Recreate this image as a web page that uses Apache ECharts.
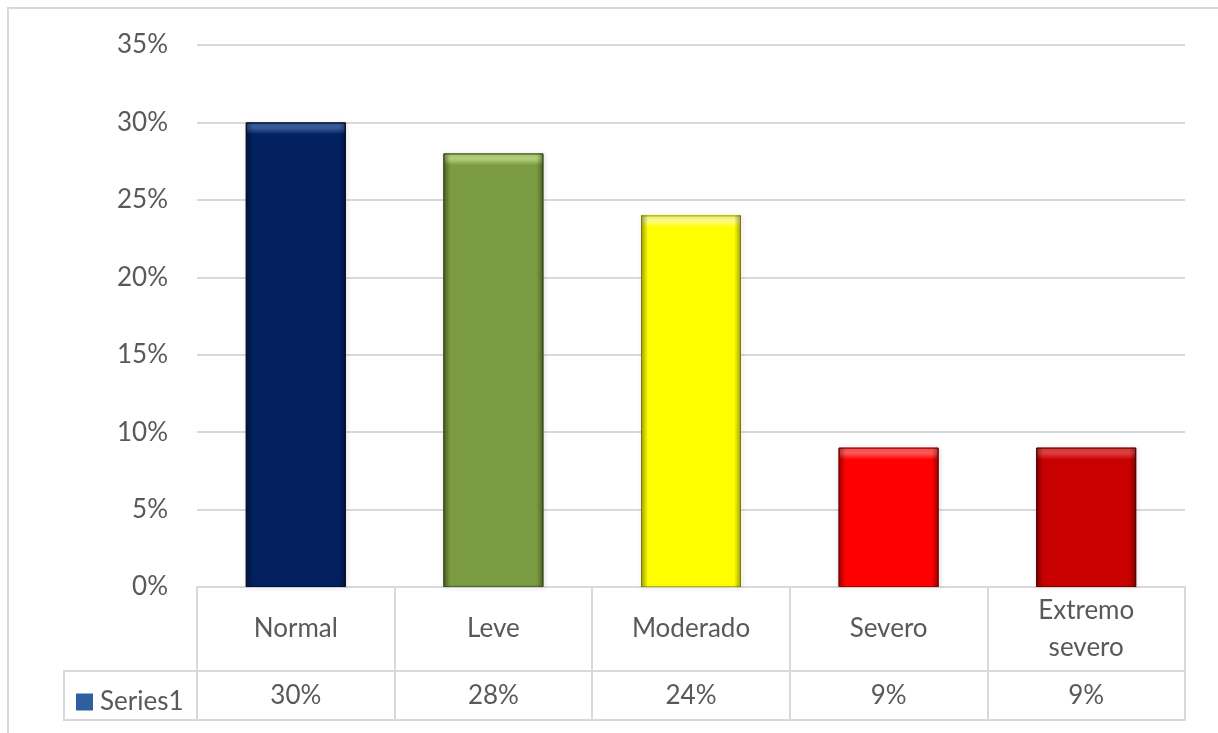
<!DOCTYPE html>
<html>
<head>
<meta charset="utf-8">
<script src="https://cdn.jsdelivr.net/npm/echarts@6/dist/echarts.min.js"></script>
<style>
html,body{margin:0;padding:0;overflow:hidden;background:#fff;width:1218px;height:733px;}
#frame{position:absolute;left:7px;top:7px;width:1400px;height:900px;border:2px solid #d9d9d9;box-sizing:border-box;}
#chart{position:absolute;left:0;top:0;width:1218px;height:733px;}
</style>
</head>
<body>
<div id="frame"></div>
<div id="chart"></div>
<script>
const categories = ['Normal', 'Leve', 'Moderado', 'Severo', 'Extremo\nsevero'];
const values = [0.30, 0.28, 0.24, 0.09, 0.09];
const valueLabels = ['30%', '28%', '24%', '9%', '9%'];
const barColors = ['#03215F', '#7B9B42', '#FFFF00', '#FF0000', '#C80000'];
const topColors = ['#3A5C9E', '#B4D27A', '#FFFF8A', '#FF5A5A', '#E24040'];
const edgeColors = ['#00143A', '#50692A', '#B8B800', '#B00000', '#800000'];
const seriesName = 'Series1';

const FONT = 'Lato';
const TXT = '#595959';
const LINE = '#d9d9d9';
const FS = 26;

const chart = echarts.init(document.getElementById('chart'), null, { renderer: 'canvas' });
const option = {
  animation: false,
  backgroundColor: 'transparent',
  grid: { left: 197, right: 33, top: 45, bottom: 146 },
  legend: {
    show: true,
    left: 71, top: 684,
    icon: 'rect', itemWidth: 17, itemHeight: 17, itemGap: 4,
    data: [{ name: seriesName, itemStyle: { color: '#2F5FA0' } }],
    textStyle: { color: TXT, fontFamily: FONT, fontSize: FS, padding: [0, 0, 0, 2] },
    selectedMode: false
  },
  xAxis: [
    {
      type: 'category', data: categories, position: 'bottom',
      axisLine: { show: true, lineStyle: { color: LINE, width: 2 } },
      axisTick: { show: true, length: 84, lineStyle: { color: LINE, width: 2 } },
      axisLabel: { color: TXT, fontFamily: FONT, fontSize: FS, lineHeight: 37, margin: 42, verticalAlign: 'middle' },
      splitLine: { show: false }
    },
    {
      type: 'category', data: valueLabels, position: 'bottom', offset: 84,
      axisLine: { show: true, lineStyle: { color: LINE, width: 2 } },
      axisTick: { show: true, length: 49, lineStyle: { color: LINE, width: 2 } },
      axisLabel: { color: TXT, fontFamily: FONT, fontSize: FS, margin: 25, verticalAlign: 'middle' },
      splitLine: { show: false }
    },
    {
      type: 'category', data: valueLabels, position: 'bottom', offset: 133,
      axisLine: { show: true, lineStyle: { color: LINE, width: 2 } },
      axisTick: { show: false }, axisLabel: { show: false }, splitLine: { show: false }
    }
  ],
  yAxis: {
    type: 'value', min: 0, max: 0.35, interval: 0.05,
    axisLine: { show: false }, axisTick: { show: false },
    axisLabel: {
      color: TXT, fontFamily: FONT, fontSize: FS, margin: 29,
      formatter: v => Math.round(v * 100) + '%'
    },
    splitLine: { show: true, lineStyle: { color: LINE, width: 2 } }
  },
  series: [{
    name: seriesName, type: 'bar', xAxisIndex: 0,
    barWidth: 100,
    data: values.map((v, i) => ({
      value: v,
      itemStyle: {
        color: barColors[i],
        borderColor: edgeColors[i], borderWidth: 1,
        shadowColor: 'rgba(0,0,0,0.25)', shadowBlur: 4, shadowOffsetX: 1, shadowOffsetY: 1
      }
    }))
  }, {
    name: 'bevel', type: 'bar', xAxisIndex: 0,
    barWidth: 100, barGap: '-100%', silent: true,
    data: values.map((v, i) => ({
      value: v,
      itemStyle: {
        color: {
          type: 'linear', x: 0, y: 0, x2: 1, y2: 0,
          colorStops: [
            { offset: 0, color: 'rgba(0,0,0,0.35)' },
            { offset: 0.07, color: 'rgba(0,0,0,0)' },
            { offset: 0.93, color: 'rgba(0,0,0,0)' },
            { offset: 1, color: 'rgba(0,0,0,0.35)' }
          ]
        }
      }
    }))
  }]
};
chart.setOption(option);

// top bevel highlight and legend cell, located from the axis scales
const c0 = chart.convertToPixel({ xAxisIndex: 0 }, 0);
const c1 = chart.convertToPixel({ xAxisIndex: 0 }, 1);
const leftEdge = c0 - (c1 - c0) / 2;
const y0 = chart.convertToPixel({ yAxisIndex: 0 }, 0);
chart.setOption({
  series: [{
    data: values.map((v, i) => {
      const top = chart.convertToPixel({ yAxisIndex: 0 }, v);
      return {
        value: v,
        itemStyle: {
          color: {
            type: 'linear', global: true, x: 0, y: top, x2: 0, y2: top + 12,
            colorStops: [
              { offset: 0, color: topColors[i] },
              { offset: 0.45, color: topColors[i] },
              { offset: 1, color: barColors[i] }
            ]
          },
          borderColor: edgeColors[i], borderWidth: 1,
          shadowColor: 'rgba(0,0,0,0.25)', shadowBlur: 4, shadowOffsetX: 1, shadowOffsetY: 1
        }
      };
    })
  }],
  graphic: [{
    type: 'rect', silent: true,
    shape: { x: 64, y: y0 + 84, width: leftEdge - 64, height: 49 },
    style: { fill: 'none', stroke: LINE, lineWidth: 2 }
  }]
});
</script>
</body>
</html>
